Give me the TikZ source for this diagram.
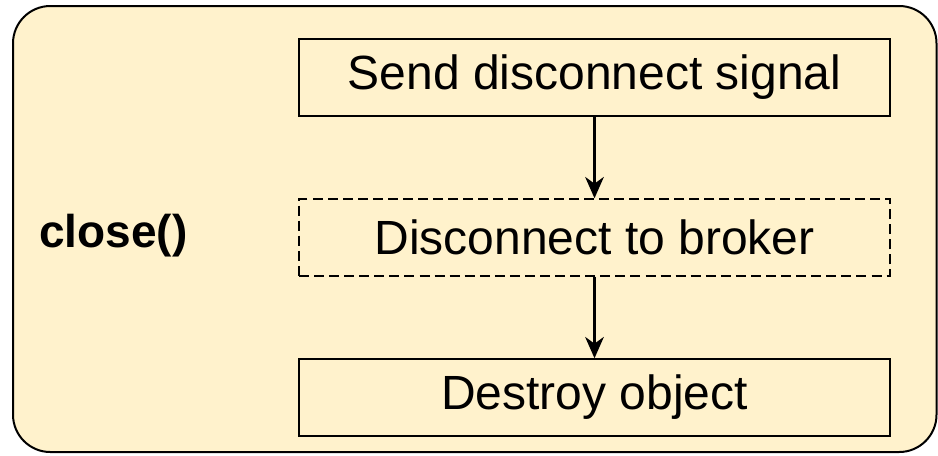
\documentclass[tikz,border=0pt]{standalone}
\usepackage{fontspec}
\setmainfont{Liberation Sans}
\usetikzlibrary{arrows.meta}
\definecolor{panelfill}{HTML}{FFF2CC}
\definecolor{inkline}{HTML}{000000}
\tikzset{
  stepbox/.style={draw=inkline, line width=1.1pt, minimum width=591*0.75pt,
    minimum height=77*0.75pt, inner sep=0pt, font=\fontsize{36}{40}\selectfont},
  optbox/.style={stepbox, dash pattern=on 7.5pt off 3.8pt},
  flow/.style={draw=inkline, line width=1.7pt,
    -{Stealth[length=16pt, width=14pt, inset=5pt]}},
}
\begin{document}
\begin{tikzpicture}[x=0.75pt, y=-0.75pt]
  \useasboundingbox (0,0) rectangle (938,455);
  % enclosing panel
  \draw[fill=panelfill, draw=inkline, line width=1.5pt, rounded corners=28pt]
    (13,6) rectangle (936.5,452);
  % method name
  \node[font=\bfseries\fontsize{34.5}{38}\selectfont] (method) at (113.5,236) {close()};
  % steps of the close sequence
  \node[stepbox] (send) at (594.5,77.5) {Send disconnect signal};
  \node[optbox] (broker) at (594.5,237.5) {Disconnect to broker};
  \node[stepbox] (destroy) at (594.5,397.5) {Destroy object};
  \draw[flow] (send) -- (broker);
  \draw[flow] (broker) -- (destroy);
\end{tikzpicture}
\end{document}
